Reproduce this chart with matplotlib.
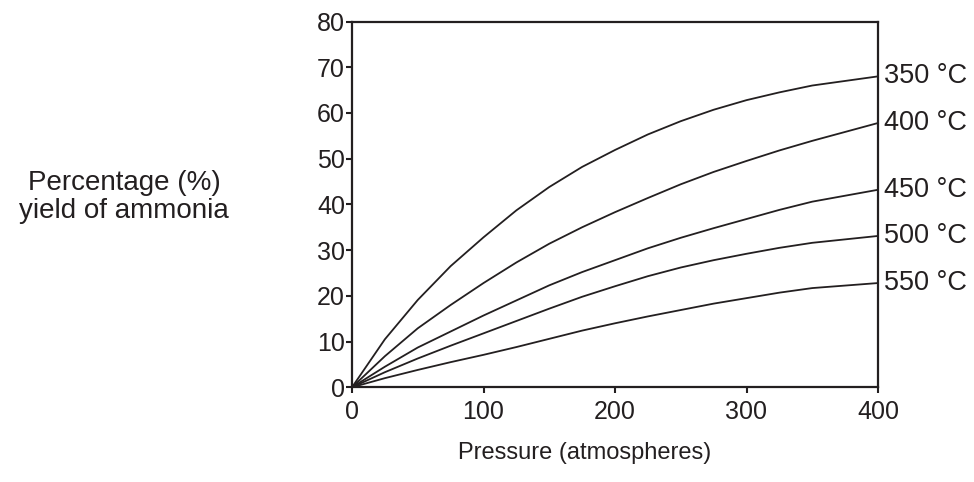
import matplotlib
matplotlib.use("Agg")
import matplotlib.pyplot as plt

plt.rcParams['font.family'] = ['Liberation Sans', 'DejaVu Sans']

pressure = [0, 25, 50, 75, 100, 125, 150, 175, 200, 225, 250, 275, 300, 325, 350, 400]
yield_350 = [0, 10.5, 19.1, 26.5, 32.8, 38.7, 43.8, 48.2, 51.9, 55.3, 58.2, 60.7, 62.8, 64.5, 66.0, 68.0]
yield_400 = [0, 6.8, 12.9, 18.0, 22.8, 27.3, 31.4, 35.0, 38.3, 41.4, 44.4, 47.1, 49.5, 51.8, 53.9, 57.8]
yield_450 = [0, 4.5, 8.7, 12.2, 15.7, 19.0, 22.3, 25.2, 27.8, 30.4, 32.7, 34.8, 36.8, 38.8, 40.6, 43.2]
yield_500 = [0, 3.3, 6.3, 9.1, 11.8, 14.5, 17.2, 19.8, 22.1, 24.3, 26.2, 27.8, 29.2, 30.5, 31.6, 33.1]
yield_550 = [0, 2.0, 3.8, 5.5, 7.1, 8.8, 10.6, 12.4, 14.0, 15.5, 16.9, 18.3, 19.5, 20.7, 21.7, 22.8]
series_labels = ["350 °C", "400 °C", "450 °C", "500 °C", "550 °C"]
x_ticks = [0, 100, 200, 300, 400]
y_ticks = [0, 10, 20, 30, 40, 50, 60, 70, 80]

ink = '#231f20'
fig = plt.figure(figsize=(9.74, 4.82), dpi=100)
ax = fig.add_axes([352/974, 1 - 387.3/482, (878-352)/974, (387.3-21.5)/482])

for ys, lab in zip([yield_350, yield_400, yield_450, yield_500, yield_550], series_labels):
    ax.plot(pressure, ys, color=ink, lw=1.3, solid_joinstyle='round', clip_on=False)
    ax.annotate(lab, xy=(pressure[-1], ys[-1]), xytext=(4, 0), textcoords='offset points',
                ha='left', va='center', fontsize=19.5, color=ink, annotation_clip=False)

ax.set_xlim(0, 400)
ax.set_ylim(0, 80)
ax.set_xticks(x_ticks)
ax.set_yticks(y_ticks)
ax.tick_params(direction='out', length=4, width=1.5, colors=ink, labelsize=18,
               left=True, bottom=True, right=False, top=False)
ax.tick_params(axis='x', pad=5)
ax.tick_params(axis='y', pad=1)
for s in ax.spines.values():
    s.set_linewidth(1.6)
    s.set_color(ink)

fig.text(585/974, 1 - 453/482, "Pressure (atmospheres)", ha='center', va='center',
         fontsize=17, color=ink)
fig.text(124/974, 1 - 197/482, "Percentage (%)\nyield of ammonia", ha='center', va='center',
         fontsize=20, color=ink, linespacing=1.15)

fig.savefig("out.png", dpi=100)
